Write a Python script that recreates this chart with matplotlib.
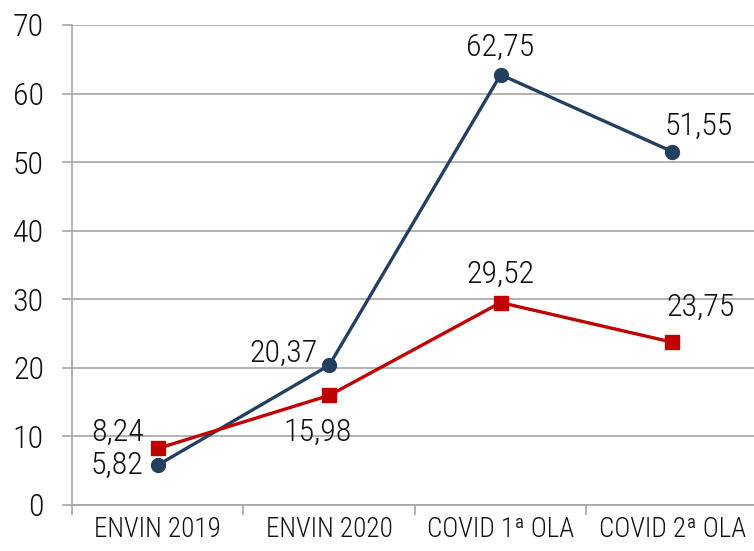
import matplotlib
matplotlib.use("Agg")
import matplotlib.pyplot as plt
from matplotlib import font_manager

categories = ["ENVIN 2019", "ENVIN 2020", "COVID 1ª OLA", "COVID 2ª OLA"]
blue_vals = [5.82, 20.37, 62.75, 51.55]
red_vals = [8.24, 15.98, 29.52, 23.75]
y_ticks = [0, 10, 20, 30, 40, 50, 60, 70]

# label offsets in pixels (dx, dy, ha)
blue_off = [(-14, 0, "right"), (-11, 12, "right"), (0, 27, "center"), (27, 25, "center")]
red_off = [(-14, 16, "right"), (-12, -37, "center"), (0, 28, "center"), (28, 35, "center")]

names = {f.name for f in font_manager.fontManager.ttflist}
fam = "Liberation Sans"
big, small = 19, 16.5
for cand in ["Liberation Sans Narrow", "Arial Narrow", "Roboto Condensed"]:
    if cand in names:
        fam = cand
        big, small = 23, 19.5
        break
plt.rcParams["font.family"] = [fam, "DejaVu Sans"]
plt.rcParams["font.weight"] = "light"

W, H = 754, 551
fig = plt.figure(figsize=(W / 100, H / 100), dpi=100)
ax = fig.add_axes([72 / W, 1 - 505 / H, (754 - 72) / W, (505 - 25) / H])

x = list(range(len(categories)))
ax.plot(x, blue_vals, color="#243F60", lw=2.4, marker="o", ms=10, zorder=3, clip_on=False)
ax.plot(x, red_vals, color="#C00000", lw=2.4, marker="s", ms=10, zorder=3, clip_on=False)

for xi, v, (dx, dy, ha) in zip(x, blue_vals, blue_off):
    ax.annotate(f"{v:.2f}".replace(".", ","), (xi, v), xytext=(dx, dy),
                textcoords="offset pixels", ha=ha, va="center", fontsize=big, color="#111111")
for xi, v, (dx, dy, ha) in zip(x, red_vals, red_off):
    ax.annotate(f"{v:.2f}".replace(".", ","), (xi, v), xytext=(dx, dy),
                textcoords="offset pixels", ha=ha, va="center", fontsize=big, color="#111111")

ax.set_ylim(0, 70)
ax.set_yticks(y_ticks)
ax.set_xlim(-0.5, 3.5 - 3.8 / 171.67)
ax.set_xticks(x)
ax.set_xticklabels(categories)
ax.set_xticks([-0.5, 0.5, 1.5, 2.5], minor=True)

grid_c = "#A6A6A6"
ax.yaxis.grid(True, color=grid_c, lw=1.2)
ax.set_axisbelow(True)
for s in ["top", "right"]:
    ax.spines[s].set_visible(False)
for s in ["left", "bottom"]:
    ax.spines[s].set_color(grid_c)
    ax.spines[s].set_linewidth(1.2)

ax.tick_params(axis="y", length=7.2, width=1.2, color=grid_c, pad=13, labelsize=big, labelcolor="#111111")
ax.tick_params(axis="x", which="major", length=0, pad=8, labelsize=small, labelcolor="#111111")
ax.tick_params(axis="x", which="minor", length=7.2, width=1.2, color=grid_c)

fig.savefig("out.png", dpi=100)
